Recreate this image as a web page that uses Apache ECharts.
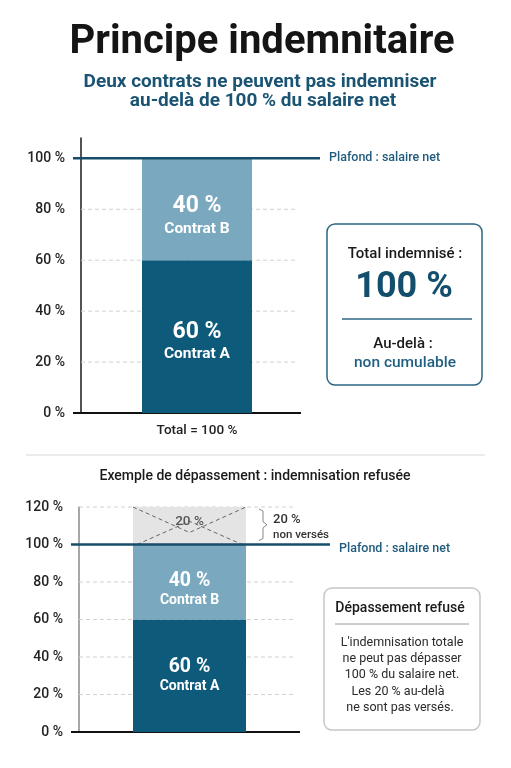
<!DOCTYPE html>
<html><head><meta charset="utf-8">
<script src="https://cdn.jsdelivr.net/npm/echarts@6/dist/echarts.min.js"></script>
<style>html,body{margin:0;padding:0;background:#fff}#c{width:511px;height:768px}</style>
</head><body><div id="c"></div>
<script>
// ---- data ----
const topCategories = ['Total = 100 %'];
const topContratA = [60];
const topContratB = [40];
const bottomCategories = [''];
const bottomContratA = [60];
const bottomContratB = [40];
const bottomExcess = [20];
const plafond = 100;
const topGridTicks = [0, 20, 40, 60, 80];
const bottomGridTicks = [0, 20, 40, 60, 80, 120];
const topAxisMax = 108;
const bottomAxisMax = 120;
const tickStep = 20;
const seriesNames = ['Contrat A', 'Contrat B'];

// ---- styles ----
const DARK = '#0d5a7b';
const LIGHT = '#7aa9bf';
const NAVY = '#164d6b';
const FONT = 'Roboto, "Liberation Sans", sans-serif';

const chart = echarts.init(document.getElementById('c'), null, {renderer: 'canvas'});

function gridRender(endOffset) {
  return function (params, api) {
    const cs = params.coordSys;
    const v = api.value(1);
    const y = api.coord([0, v])[1];
    if (v === 0) {
      return {type: 'line', shape: {x1: cs.x - 8, y1: y, x2: cs.x + cs.width - endOffset, y2: y},
        style: {stroke: '#111', lineWidth: 2}};
    }
    return {type: 'line', shape: {x1: cs.x, y1: y, x2: cs.x + cs.width - endOffset - 5, y2: y},
      style: {stroke: '#d2d2d2', lineWidth: 1, lineDash: [4, 3]}};
  };
}
function plafondRender(ext, dy) {
  return function (params, api) {
    const cs = params.coordSys;
    const y = api.coord([0, api.value(1)])[1];
    return {type: 'group', children: [
      {type: 'line', shape: {x1: cs.x - 8, y1: y, x2: cs.x + cs.width + ext, y2: y},
        style: {stroke: NAVY, lineWidth: 2.5}},
      {type: 'text', x: cs.x + cs.width + ext + 9, y: y + dy,
        style: {text: 'Plafond : salaire net', fill: '#1f5b7c', font: '500 12.5px ' + FONT, verticalAlign: 'middle'}}
    ]};
  };
}
function barLabel(big, small, offY) {
  return {
    show: true, position: 'inside', offset: [0, offY],
    formatter: p => `{v|${p.value} %}\n{n|${p.seriesName}}`,
    rich: {
      v: {fontSize: big, fontWeight: 'bold', color: '#fff', fontFamily: FONT, lineHeight: big + 2},
      n: {fontSize: small, fontWeight: 'bold', color: '#fff', fontFamily: FONT, lineHeight: small + 4}
    }
  };
}
const yLabel = {formatter: '{value} %', color: '#222', fontSize: 14, fontWeight: 500, fontFamily: FONT, margin: 16};

const option = {
  backgroundColor: '#fff',
  animation: false,
  grid: [
    {left: 81, top: 138, width: 232, height: 275},
    {left: 79, top: 507, width: 221, height: 225}
  ],
  xAxis: [
    {type: 'category', gridIndex: 0, data: topCategories, axisLine: {show: false}, axisTick: {show: false},
      axisLabel: {color: '#222', fontSize: 13.5, fontWeight: 500, fontFamily: FONT, margin: 11}},
    {type: 'category', gridIndex: 1, data: bottomCategories, axisLine: {show: false}, axisTick: {show: false},
      axisLabel: {show: false}}
  ],
  yAxis: [
    {type: 'value', gridIndex: 0, min: 0, max: topAxisMax, interval: tickStep,
      axisLine: {show: true, lineStyle: {color: '#1a1a1a', width: 1.5}}, axisTick: {show: false},
      splitLine: {show: false},
      axisLabel: Object.assign({showMaxLabel: false}, yLabel)},
    {type: 'value', gridIndex: 1, min: 0, max: bottomAxisMax, interval: tickStep,
      axisLine: {show: true, lineStyle: {color: '#8a8a8a', width: 1.5}}, axisTick: {show: false},
      splitLine: {show: false},
      axisLabel: yLabel}
  ],
  series: [
    {type: 'custom', xAxisIndex: 0, yAxisIndex: 0, z: 1, clip: false, silent: true,
      data: topGridTicks.map(v => [0, v]), renderItem: gridRender(12)},
    {type: 'custom', xAxisIndex: 1, yAxisIndex: 1, z: 1, clip: false, silent: true,
      data: bottomGridTicks.map(v => [0, v]), renderItem: gridRender(0)},
    {name: seriesNames[0], type: 'bar', stack: 'top', xAxisIndex: 0, yAxisIndex: 0, z: 2, barWidth: 110,
      data: topContratA, itemStyle: {color: DARK}, label: barLabel(23, 15.5, 5)},
    {name: seriesNames[1], type: 'bar', stack: 'top', xAxisIndex: 0, yAxisIndex: 0, z: 2, barWidth: 110,
      data: topContratB, itemStyle: {color: LIGHT}, label: barLabel(23, 15.5, 7)},
    {name: seriesNames[0], type: 'bar', stack: 'bot', xAxisIndex: 1, yAxisIndex: 1, z: 2, barWidth: 113,
      data: bottomContratA, itemStyle: {color: DARK}, label: barLabel(19.5, 14, 0)},
    {name: seriesNames[1], type: 'bar', stack: 'bot', xAxisIndex: 1, yAxisIndex: 1, z: 2, barWidth: 113,
      data: bottomContratB, itemStyle: {color: LIGHT}, label: barLabel(19.5, 14, 8)},
    {type: 'custom', xAxisIndex: 1, yAxisIndex: 1, z: 3, clip: false, silent: true,
      encode: {x: 0, y: [1, 2]},
      data: bottomExcess.map((e, i) => [i, bottomContratA[i] + bottomContratB[i], bottomContratA[i] + bottomContratB[i] + e]),
      renderItem: function (params, api) {
        const c = api.value(0);
        const top = api.coord([c, api.value(2)]);
        const yb = api.coord([c, api.value(1)])[1];
        const yt = top[1];
        const w = 113, l = top[0] - w / 2, r = top[0] + w / 2, cx = top[0];
        const h = yb - yt;
        const dash = {stroke: '#666', lineWidth: 1, lineDash: [4, 3]};
        const bx = r + 13;
        const by0 = yt + 2, by1 = yb - 4, bym = (by0 + by1) / 2;
        const ex = api.value(2) - api.value(1);
        return {type: 'group', children: [
          {type: 'rect', shape: {x: l, y: yt, width: w, height: h}, style: {fill: '#e4e4e4'}},
          {type: 'polyline', shape: {points: [[l, yt], [cx, yt + h * 0.68], [r, yt]]}, style: Object.assign({fill: null}, dash)},
          {type: 'polyline', shape: {points: [[l + 4, yb], [cx, yt + h * 0.38], [r - 4, yb]]}, style: Object.assign({fill: null}, dash)},
          {type: 'text', x: cx, y: yt + h * 0.4, style: {text: ex + ' %', fill: '#555', font: '500 13.5px ' + FONT, align: 'center', verticalAlign: 'middle'}},
          {type: 'polyline', shape: {points: [[bx, by0], [bx + 4, by0 + 2], [bx + 4, bym - 3], [bx + 8, bym], [bx + 4, bym + 3], [bx + 4, by1 - 2], [bx, by1]]},
            style: {stroke: '#888', lineWidth: 1, fill: null}},
          {type: 'text', x: bx + 14, y: yt + 13, style: {text: ex + ' %', fill: '#333', font: '500 13px ' + FONT, verticalAlign: 'middle'}},
          {type: 'text', x: bx + 14, y: yt + 28, style: {text: 'non versés', fill: '#333', font: '500 11.5px ' + FONT, verticalAlign: 'middle'}}
        ]};
      }},
    {type: 'custom', xAxisIndex: 0, yAxisIndex: 0, z: 5, clip: false, silent: true,
      data: [[0, plafond]], renderItem: plafondRender(7, 0)},
    {type: 'custom', xAxisIndex: 1, yAxisIndex: 1, z: 5, clip: false, silent: true,
      data: [[0, plafond]], renderItem: plafondRender(30, 4)}
  ],
  graphic: [
    {type: 'text', x: 262, y: 43, style: {text: 'Principe indemnitaire', fill: '#151515', font: 'bold 40px ' + FONT, align: 'center', verticalAlign: 'middle'}},
    {type: 'text', x: 260, y: 82, style: {text: 'Deux contrats ne peuvent pas indemniser', fill: '#1b5473', font: 'bold 19px ' + FONT, align: 'center', verticalAlign: 'middle'}},
    {type: 'text', x: 263, y: 101, style: {text: 'au-delà de 100 % du salaire net', fill: '#1b5473', font: 'bold 19px ' + FONT, align: 'center', verticalAlign: 'middle'}},
    // top box
    {type: 'rect', shape: {x: 327, y: 224, width: 155, height: 161, r: 8}, style: {fill: '#fff', stroke: '#2d6682', lineWidth: 1.5}},
    {type: 'text', x: 405, y: 254, style: {text: 'Total indemnisé :', fill: '#1a1a1a', font: '500 15px ' + FONT, align: 'center', verticalAlign: 'middle'}},
    {type: 'text', x: 404, y: 288, style: {text: '100 %', fill: '#134f6d', font: 'bold 36px ' + FONT, align: 'center', verticalAlign: 'middle'}},
    {type: 'line', shape: {x1: 342, y1: 319, x2: 472, y2: 319}, style: {stroke: '#2d6682', lineWidth: 1.5}},
    {type: 'text', x: 403, y: 344, style: {text: 'Au-delà :', fill: '#1a1a1a', font: '500 15px ' + FONT, align: 'center', verticalAlign: 'middle'}},
    {type: 'text', x: 405, y: 363, style: {text: 'non cumulable', fill: '#1e5f82', font: '500 15.5px ' + FONT, align: 'center', verticalAlign: 'middle'}},
    // separator
    {type: 'line', shape: {x1: 26, y1: 455, x2: 485, y2: 455}, style: {stroke: '#d8d8d8', lineWidth: 1}},
    {type: 'text', x: 255, y: 476, style: {text: 'Exemple de dépassement : indemnisation refusée', fill: '#1a1a1a', font: '500 14px ' + FONT, align: 'center', verticalAlign: 'middle'}},
    // bottom box
    {type: 'rect', shape: {x: 324, y: 588, width: 156, height: 142, r: 8}, style: {fill: '#fff', stroke: '#c6c6c6', lineWidth: 1.5}},
    {type: 'text', x: 400, y: 608, style: {text: 'Dépassement refusé', fill: '#1a1a1a', font: '500 14px ' + FONT, align: 'center', verticalAlign: 'middle'}},
    {type: 'line', shape: {x1: 335, y1: 624, x2: 469, y2: 624}, style: {stroke: '#9a9a9a', lineWidth: 1}},
    {type: 'text', x: 402, y: 643, style: {text: "L'indemnisation totale", fill: '#2a2a2a', font: '12.5px ' + FONT, align: 'center', verticalAlign: 'middle'}},
    {type: 'text', x: 402, y: 659, style: {text: 'ne peut pas dépasser', fill: '#2a2a2a', font: '12.5px ' + FONT, align: 'center', verticalAlign: 'middle'}},
    {type: 'text', x: 402, y: 675, style: {text: '100 % du salaire net.', fill: '#2a2a2a', font: '12.5px ' + FONT, align: 'center', verticalAlign: 'middle'}},
    {type: 'text', x: 398, y: 692, style: {text: 'Les 20 % au-delà', fill: '#2a2a2a', font: '12.5px ' + FONT, align: 'center', verticalAlign: 'middle'}},
    {type: 'text', x: 400, y: 708, style: {text: 'ne sont pas versés.', fill: '#2a2a2a', font: '12.5px ' + FONT, align: 'center', verticalAlign: 'middle'}}
  ]
};
chart.setOption(option);
</script></body></html>
